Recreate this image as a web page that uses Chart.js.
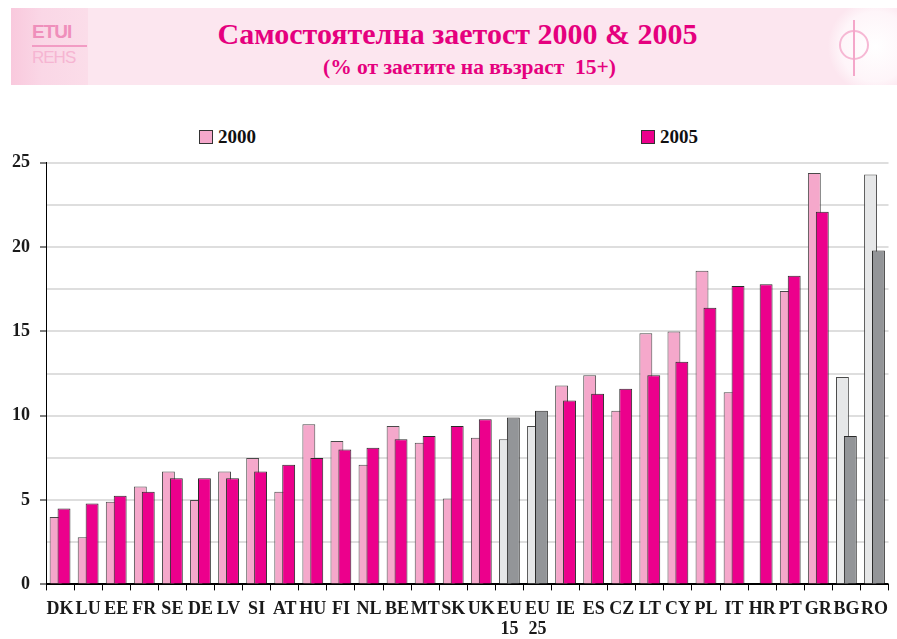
<!DOCTYPE html>
<html>
<head>
<meta charset="utf-8">
<script src="https://cdn.jsdelivr.net/npm/chart.js@4"></script>
<style>
  html, body { margin: 0; padding: 0; background: #fff; }
  body { width: 897px; height: 639px; position: relative; overflow: hidden; font-family: "Liberation Serif", "Times New Roman", serif; }
  .band { position: absolute; left: 11px; top: 8px; width: 886px; height: 77px; background: #fce6ef; }
  .logo-l { position: absolute; left: 0; top: 0; width: 77px; height: 77px; background: linear-gradient(90deg, #f9c9dd 0%, #fad7e6 40%, #fbdde9 100%); }
  .logo-l .a { position: absolute; left: 21px; top: 13px; font: bold 19px "Liberation Sans", Arial, sans-serif; color: #ef8fbb; letter-spacing: -1px; }
  .logo-l .b { position: absolute; left: 21px; top: 40px; font: 17px "Liberation Sans", Arial, sans-serif; color: #f6b5d2; letter-spacing: -1px; }
  .logo-l .rule { position: absolute; left: 21px; top: 37px; width: 55px; height: 2px; background: #f29cc4; }
  .logo-r { position: absolute; right: 0; top: 0; width: 72px; height: 77px; background: radial-gradient(circle at 70% 50%, #fff 0%, #fef5f9 55%, #fce6ef 75%); }
  .logo-r .s { position: absolute; left: 28px; top: 12px; width: 2px; height: 56px; background: #f4a7ca; }
  .logo-r .c { position: absolute; left: 14px; top: 22px; width: 26px; height: 26px; border: 2px solid #f6b8d4; border-radius: 50%; }
  .title { position: absolute; left: 0; width: 897px; text-align: center; color: #e5007e; font-weight: bold; white-space: pre; }
  .t1 { top: 17px; font-size: 30px; padding-left: 18px; box-sizing: border-box; }
  .t2 { top: 55px; font-size: 21.5px; padding-left: 42px; box-sizing: border-box; }
  .legend { position: absolute; top: 126px; font-weight: bold; font-size: 19px; color: #111; }
  .legend span.box { display: inline-block; width: 12px; height: 12px; border: 1px solid #333; vertical-align: -1px; margin-right: 5px; }
  #wrap { position: absolute; left: 0; top: 142px; width: 897px; height: 506px; }
</style>
</head>
<body>
<div class="band">
  <div class="logo-l"><div class="a">ETUI</div><div class="rule"></div><div class="b">REHS</div></div>
  <div class="logo-r"><div class="c"></div><div class="s"></div></div>
</div>
<div class="title t1">Самостоятелна заетост 2000 &amp; 2005</div>
<div class="title t2">(% от заетите на възраст  15+)</div>
<div class="legend" style="left:199px"><span class="box" style="background:#f5a8cb"></span>2000</div>
<div class="legend" style="left:641px"><span class="box" style="background:#ec008c"></span>2005</div>
<div id="wrap"><canvas id="chart"></canvas></div>
<script>
const countries = ["DK", "LU", "EE", "FR", "SE", "DE", "LV", "SI", "AT", "HU", "FI", "NL", "BE", "MT", "SK", "UK",
  ["EU", "15"], ["EU", "25"], "IE", "ES", "CZ", "LT", "CY", "PL", "IT", "HR", "PT", "GR", "BG", "RO"];
const values2000 = [4.0, 2.8, 4.9, 5.8, 6.7, 5.0, 6.7, 7.5, 5.5, 9.5, 8.5, 7.1, 9.4, 8.4, 5.1, 8.7,
  8.6, 9.4, 11.8, 12.4, 10.3, 14.9, 15.0, 18.6, 11.4, null, 17.4, 24.4, 12.3, 24.3];
const values2005 = [4.5, 4.8, 5.25, 5.5, 6.3, 6.3, 6.3, 6.7, 7.1, 7.5, 8.0, 8.1, 8.6, 8.8, 9.4, 9.8,
  9.9, 10.3, 10.9, 11.3, 11.6, 12.4, 13.2, 16.4, 17.7, 17.8, 18.3, 22.1, 8.8, 19.8];
const greyCodes = ["EU15", "EU25", "BG", "RO"];
const yTicks = [0, 5, 10, 15, 20, 25];

const PINK = "#f5a8cb", MAGENTA = "#ec008c", GREY_LIGHT = "#e6e7e8", GREY_DARK = "#939598";
const isGrey = countries.map((c) => greyCodes.includes(Array.isArray(c) ? c.join("") : c));
const font = (size) => ({ family: "Liberation Serif, Times New Roman, serif", size, weight: "bold" });

// bars overlap (barPercentage > 1); the 2000 set is painted first so 2005 lies on top
const oldBarsBehind = {
  id: "oldBarsBehind",
  beforeDatasetsDraw(chart) {
    chart.getDatasetMeta(0).controller.draw();
  },
  beforeDatasetDraw(chart, args) {
    if (args.index === 0) return false;
  },
};

new Chart(document.getElementById("chart"), {
  type: "bar",
  data: {
    labels: countries,
    datasets: [
      { label: "2000", data: values2000, backgroundColor: isGrey.map((g) => (g ? GREY_LIGHT : PINK)),
        borderColor: "#4a4a4a", borderWidth: 1, borderSkipped: "bottom" },
      { label: "2005", data: values2005, backgroundColor: isGrey.map((g) => (g ? GREY_DARK : MAGENTA)),
        borderColor: "#2a2a2a", borderWidth: 1, borderSkipped: "bottom" },
    ],
  },
  plugins: [oldBarsBehind],
  options: {
    responsive: true,
    maintainAspectRatio: false,
    animation: false,
    categoryPercentage: 0.565,
    barPercentage: 1.625,
    layout: { padding: { top: 19, left: 2, right: 1, bottom: 0 } },
    plugins: { legend: { display: false }, tooltip: { enabled: false } },
    scales: {
      x: {
        offset: true,
        grid: { offset: true, drawOnChartArea: false, color: "#000", tickLength: 6 },
        border: { color: "#000", width: 1 },
        ticks: { color: "#1a1a1a", font: Object.assign(font(18), { lineHeight: 1.1 }), autoSkip: false, maxRotation: 0, minRotation: 0, padding: 9 },
      },
      y: {
        min: 0,
        max: 25,
        afterBuildTicks(axis) {
          const ticks = [];
          for (let v = 0; v <= 25; v += 2.5) ticks.push({ value: v });
          axis.ticks = ticks;
        },
        ticks: {
          color: "#1a1a1a",
          font: font(18),
          padding: 10,
          callback: (v) => (yTicks.includes(v) ? v : ""),
        },
        grid: {
          color: (ctx) => (ctx.tick && ctx.tick.value === 0 ? "#000" : "#dedede"),
          lineWidth: 2,
          tickLength: 6,
          tickColor: (ctx) => (ctx.tick && yTicks.includes(ctx.tick.value) ? "#000" : "rgba(0,0,0,0)"),
          tickWidth: 1,
        },
        border: { color: "#000", width: 1 },
      },
    },
  },
});
</script>
</body>
</html>
